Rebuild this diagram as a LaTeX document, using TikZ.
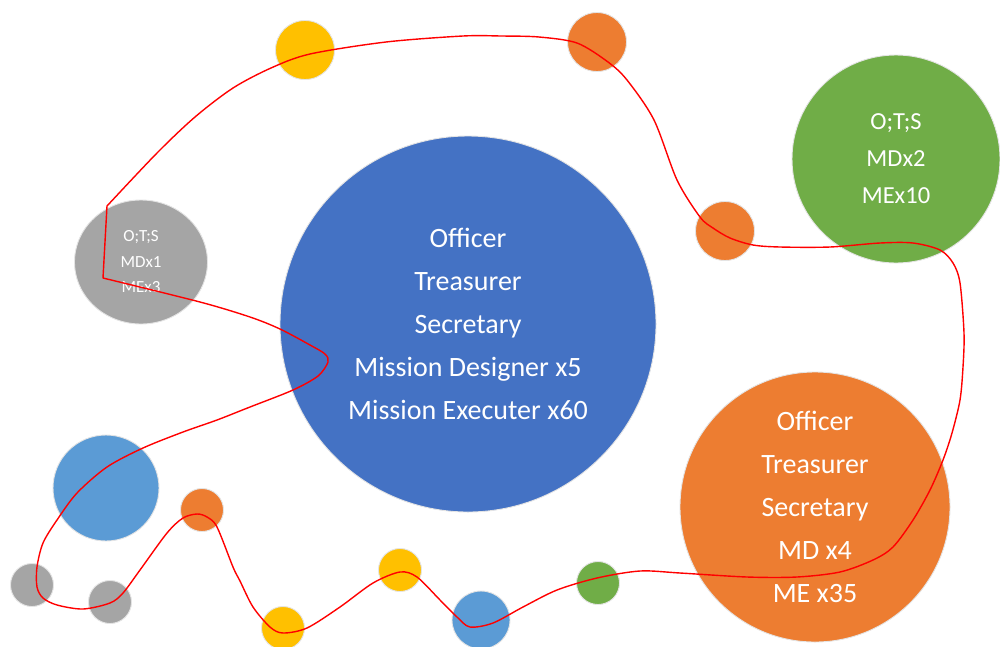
\documentclass[tikz,border=0pt]{standalone}
\usepackage{fontspec}
\setmainfont{Carlito}
\usetikzlibrary{shapes.geometric}
\definecolor{cblue}{HTML}{4472C4}
\definecolor{cgreen}{HTML}{70AD47}
\definecolor{corange}{HTML}{ED7D31}
\definecolor{cgray}{HTML}{A5A5A5}
\definecolor{cyellow}{HTML}{FFC000}
\definecolor{clblue}{HTML}{5B9BD5}
\definecolor{crim}{HTML}{E4E4E4}
\tikzset{
  bubble/.style={circle, inner sep=0pt, draw=crim, line width=0.9pt, text=white, align=center},
  bigtext/.style={font=\fontsize{28}{43}\selectfont},
  midtext/.style={font=\fontsize{24.5}{37}\selectfont},
  smalltext/.style={font=\fontsize{17}{25.5}\selectfont},
  curve/.style={draw=red, line width=1.4pt, line join=round}
}
\begin{document}
\begin{tikzpicture}[x=1pt, y=-1pt]
\useasboundingbox (0,0) rectangle (1000,646);
% big circles
\node[bubble, fill=cblue, minimum size=376pt, bigtext] (main) at (468,324)
  {Officer\\Treasurer\\Secretary\\Mission Designer x5\\Mission Executer x60};
\node[bubble, fill=cgreen, minimum size=208pt, midtext] (green) at (896,159)
  {O;T;S\\MDx2\\MEx10};
\node[bubble, fill=corange, minimum size=270pt, bigtext] (orange) at (815,507)
  {Officer\\Treasurer\\Secretary\\MD x4\\ME x35};
\node[bubble, ellipse, fill=cgray, minimum width=133pt, minimum height=124pt, smalltext] (gray) at (141,262)
  {O;T;S\\MDx1\\MEx3};
% small circles
\node[bubble, fill=cyellow, minimum size=59pt] (y1) at (305,50) {};
\node[bubble, fill=corange, minimum size=59pt] (o1) at (597,42) {};
\node[bubble, fill=corange, minimum size=59pt] (o2) at (725,231) {};
\node[bubble, fill=clblue, minimum size=106pt] (b1) at (106,488) {};
\node[bubble, fill=corange, minimum size=43pt] (o3) at (202,510) {};
\node[bubble, fill=cgray, minimum size=43pt] (g1) at (32,585) {};
\node[bubble, fill=cgray, minimum size=43pt] (g2) at (110,602) {};
\node[bubble, fill=cyellow, minimum size=43pt] (y2) at (283,628) {};
\node[bubble, fill=cyellow, minimum size=43pt] (y3) at (400,570) {};
\node[bubble, fill=clblue, minimum size=58pt] (b2) at (481,620) {};
\node[bubble, fill=cgreen, minimum size=43pt] (gr2) at (598,583) {};
% red closed curve
\draw[curve] plot[smooth, tension=0.5] coordinates {
 (107,206) (157,153) (195,117) (233,88) (271,68) (310,54) (386,42) (463,36)
 (501,36) (539,37) (577,43) (608,62) (627,80) (654,120) (677,180) (700,217)
 (713,228) (730,238) (753,245) (780,247) (830,247) (880,243) (913,243)
 (940,250) (953,263) (960,283) (964,333) (963,367) (960,400) (952,433)
 (943,460) (930,490) (913,520) (893,547) (873,560) (840,572) (797,577)
 (747,577) (680,573) (640,571) (597,578) (557,590) (523,607) (493,623)
 (470,627) (457,617) (440,600) (417,577) (400,572) (373,583) (340,607)
 (307,628) (283,633) (270,627) (253,607) (240,581) (233,567) (217,527)
 (207,517) (197,514) (183,518) (167,533) (140,570) (123,593) (110,603)
 (83,609) (57,605) (43,598) (37,587) (37,567) (43,543) (57,520) (77,493)
 (107,467) (143,448) (183,432) (217,420) (250,407) (293,390) (318,376)
 (328,362) (325,354) (310,345) (280,329) (250,317) (200,302) (103,278)
} -- cycle;
\end{tikzpicture}
\end{document}
